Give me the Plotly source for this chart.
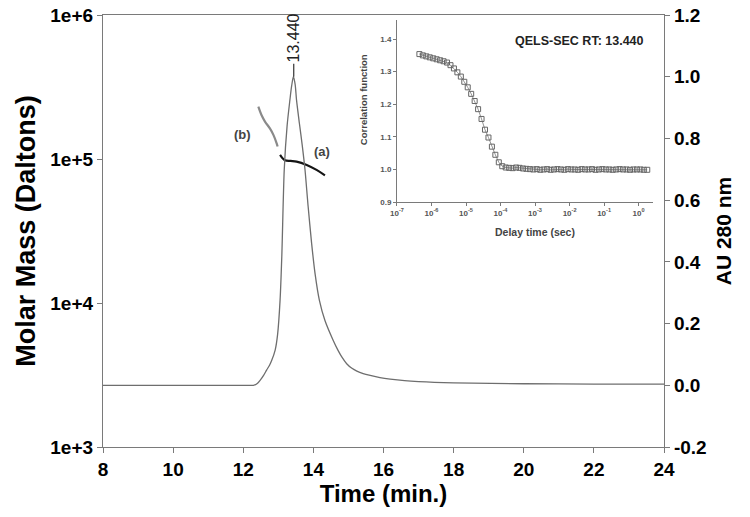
import plotly.graph_objects as go

# ---- Main chromatogram (UV 280 nm) ----
time_min = [8.0, 10.0, 12.0, 12.29, 12.4, 12.48, 12.58, 12.67, 12.75, 12.81, 12.91, 12.98,
            13.05, 13.1, 13.17, 13.25, 13.33, 13.38, 13.43, 13.48, 13.52, 13.6, 13.68, 13.76,
            13.85, 13.95, 14.05, 14.17, 14.33, 14.56, 14.7, 14.81, 14.95, 15.1, 15.24, 15.42,
            15.62, 15.9, 16.19, 16.6, 17.0, 18.0, 20.0, 22.0, 24.0]
au_280 = [0.0, 0.0, 0.0, 0.0, 0.006, 0.016, 0.032, 0.05, 0.065, 0.08, 0.114, 0.165,
          0.276, 0.42, 0.70, 0.84, 0.924, 0.97, 1.0, 0.975, 0.924, 0.85, 0.78, 0.70,
          0.58, 0.46, 0.36, 0.276, 0.21, 0.147, 0.114, 0.092, 0.07, 0.055, 0.046, 0.038,
          0.032, 0.025, 0.02, 0.015, 0.012, 0.008, 0.005, 0.004, 0.004]

# ---- Molar mass traces ----
mass_a_time = [13.05, 13.19, 13.35, 13.52, 13.81, 14.09, 14.33]
mass_a = [107000, 98000, 97000, 96000, 91000, 84000, 77000]
mass_b_time = [12.43, 12.52, 12.62, 12.76, 12.86, 12.95, 12.98]
mass_b = [231000, 202000, 182000, 163000, 147000, 129000, 122000]

# ---- Inset: QELS correlation function ----
delay_exp = [-6.35, -6.25, -6.15, -6.05, -5.95, -5.85, -5.75, -5.65, -5.55, -5.45, -5.35, -5.25,
             -5.15, -5.05, -4.95, -4.85, -4.75, -4.65, -4.55, -4.45, -4.35, -4.25, -4.15, -4.05,
             -3.95, -3.85, -3.75, -3.65, -3.55, -3.45, -3.35, -3.25, -3.15, -3.05, -2.95, -2.85,
             -2.75, -2.65, -2.55, -2.45, -2.35, -2.25, -2.15, -2.05, -1.95, -1.85, -1.75, -1.65,
             -1.55, -1.45, -1.35, -1.25, -1.15, -1.05, -0.95, -0.85, -0.75, -0.65, -0.55, -0.45,
             -0.35, -0.25, -0.15, -0.05, 0.05, 0.15, 0.25]
corr = [1.354, 1.350, 1.347, 1.344, 1.341, 1.338, 1.335, 1.332, 1.328, 1.320, 1.310, 1.298,
        1.285, 1.269, 1.252, 1.232, 1.210, 1.185, 1.155, 1.122, 1.098, 1.070, 1.045, 1.022,
        1.010, 1.006, 1.005, 1.004, 1.006, 1.005, 1.003, 1.002, 1.001, 1.000, 1.001, 0.999,
        1.000, 1.001, 0.999, 1.000, 1.001, 1.000, 0.999, 1.001, 1.000, 1.000, 0.999, 1.001,
        1.000, 1.000, 1.001, 0.999, 1.000, 1.001, 1.000, 1.000, 0.999, 1.000, 1.001, 1.000,
        1.000, 0.999, 1.000, 1.000, 1.000, 0.999, 0.999]
delay_s = [10 ** e for e in delay_exp]

x_ticks = [8, 10, 12, 14, 16, 18, 20, 22, 24]
mass_ticks = [1e3, 1e4, 1e5, 1e6]
mass_tick_text = ["1e+3", "1e+4", "1e+5", "1e+6"]
au_ticks = [-0.2, 0.0, 0.2, 0.4, 0.6, 0.8, 1.0, 1.2]
au_tick_text = ["-0.2", "0.0", "0.2", "0.4", "0.6", "0.8", "1.0", "1.2"]
inset_x_ticks = [1e-7, 1e-6, 1e-5, 1e-4, 1e-3, 1e-2, 1e-1, 1e0]
inset_x_text = ["10<sup>-7</sup>", "10<sup>-6</sup>", "10<sup>-5</sup>", "10<sup>-4</sup>",
                "10<sup>-3</sup>", "10<sup>-2</sup>", "10<sup>-1</sup>", "10<sup>0</sup>"]
inset_y_ticks = [0.9, 1.0, 1.1, 1.2, 1.3, 1.4]

peak_time = 13.44
peak_au = 1.0

FONT = "Arial, Liberation Sans, sans-serif"
AXC = "#7a7a7a"
TICKF = dict(size=19, family=FONT, weight="bold", color="black")
INSF = dict(size=8, family=FONT, weight="bold", color="#555555")

fig = go.Figure()
fig.add_trace(go.Scatter(x=time_min, y=au_280, mode="lines", yaxis="y2",
                         line=dict(color="#6e6e6e", width=1.3, shape="spline", smoothing=0.8),
                         showlegend=False))
fig.add_trace(go.Scatter(x=mass_b_time, y=mass_b, mode="lines", yaxis="y",
                         line=dict(color="#8a8a8a", width=2.2, shape="spline"), showlegend=False))
fig.add_trace(go.Scatter(x=mass_a_time, y=mass_a, mode="lines", yaxis="y",
                         line=dict(color="#151515", width=2.2, shape="spline"), showlegend=False))
fig.add_trace(go.Scatter(x=delay_s, y=corr, mode="lines+markers", xaxis="x3", yaxis="y3",
                         line=dict(color="#777777", width=0.8),
                         marker=dict(symbol="square-open", size=5, color="#666666",
                                     line=dict(width=1)),
                         showlegend=False))

fig.update_layout(
    width=750, height=517,
    margin=dict(l=103, r=86, t=15, b=70),
    paper_bgcolor="white", plot_bgcolor="white",
    font=dict(family=FONT, color="black"),
    xaxis=dict(range=[8, 24], tickvals=x_ticks, ticks="outside", ticklen=5, tickcolor=AXC,
               showline=True, linecolor=AXC, linewidth=1.3, mirror=True, showgrid=False,
               zeroline=False, tickfont=TICKF, automargin=False, ticklabeloverflow="allow",
               title=dict(text="<b>Time (min.)</b>", font=dict(size=24), standoff=4)),
    yaxis=dict(type="log", range=[3, 6], tickvals=mass_ticks, ticktext=mass_tick_text,
               ticks="outside", ticklen=5, tickcolor=AXC, showline=True, linecolor=AXC,
               linewidth=1.3, showgrid=False, zeroline=False, automargin=False,
               tickfont=TICKF, ticklabeloverflow="allow",
               title=dict(text="<b>Molar Mass (Daltons)</b>", font=dict(size=27), standoff=6)),
    yaxis2=dict(overlaying="y", side="right", range=[-0.2, 1.2], tickvals=au_ticks,
                ticktext=au_tick_text, ticks="outside", ticklen=5, tickcolor=AXC,
                showline=True, linecolor=AXC, linewidth=1.3, showgrid=False, zeroline=False,
                automargin=False, tickfont=TICKF, ticklabeloverflow="allow",
                title=dict(text="<b>AU 280 nm</b>", font=dict(size=21), standoff=10)),
    xaxis3=dict(type="log", domain=[0.524, 0.98], anchor="y3", range=[-7, 0.41],
                tickvals=inset_x_ticks, ticktext=inset_x_text, ticks="outside", ticklen=3,
                tickcolor=AXC, showline=True, linecolor=AXC, linewidth=1, showgrid=False,
                zeroline=False, tickfont=INSF, automargin=False),
    yaxis3=dict(domain=[0.567, 0.988], anchor="x3", range=[0.9, 1.458], tickvals=inset_y_ticks,
                tickformat=".1f", ticks="outside", ticklen=3, tickcolor=AXC, showline=True,
                linecolor=AXC, linewidth=1, showgrid=False, zeroline=False,
                tickfont=INSF, automargin=False),
)

fig.add_annotation(x=peak_time, y=peak_au, xref="x", yref="y2", text="13.440",
                   textangle=-90, showarrow=True, arrowhead=0, arrowwidth=1.2,
                   arrowcolor="#333333", ax=0, ay=-39,
                   font=dict(size=16, color="#222222", family=FONT))
fig.add_annotation(x=11.99, y=5.167, xref="x", yref="y", text="<b>(b)</b>", showarrow=False,
                   xanchor="center", yanchor="middle",
                   font=dict(size=13, color="#444444", family=FONT))
fig.add_annotation(x=14.24, y=5.05, xref="x", yref="y", text="<b>(a)</b>", showarrow=False,
                   xanchor="center", yanchor="middle",
                   font=dict(size=13, color="#444444", family=FONT))
fig.add_annotation(x=0.8485, y=0.94, xref="paper", yref="paper",
                   text="<b>QELS-SEC RT: 13.440</b>", showarrow=False,
                   xanchor="center", yanchor="middle",
                   font=dict(size=12.5, color="#222222", family=FONT))
fig.add_annotation(x=0.4635, y=0.803, xref="paper", yref="paper",
                   text="<b>Correlation function</b>", textangle=-90, showarrow=False,
                   xanchor="center", yanchor="middle",
                   font=dict(size=9.5, color="#444444", family=FONT))
fig.add_annotation(x=0.539, y=-0.165, xref="x3 domain", yref="y3 domain",
                   text="<b>Delay time (sec)</b>", showarrow=False,
                   xanchor="center", yanchor="middle",
                   font=dict(size=10.5, color="#444444", family=FONT))

fig.write_html("out.html", config={"displayModeBar": False},
               post_script="document.body.style.margin='0';")
